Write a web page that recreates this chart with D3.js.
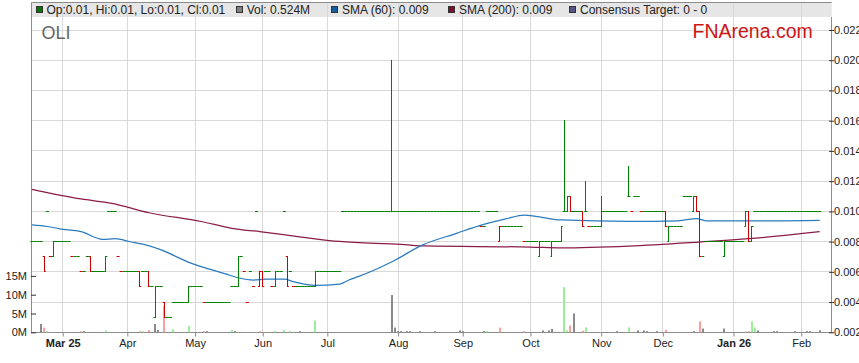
<!DOCTYPE html>
<html>
<head>
<meta charset="utf-8">
<script src="https://cdn.jsdelivr.net/npm/d3@7"></script>
<style>
body { margin: 0; background: #fff; }
svg text { font-family: Arial, "Liberation Sans", sans-serif; }
</style>
</head>
<body>
<div id="chart"></div>
<script>

// one entry per weekday, day 0 = Mon 17 Feb 2025
// prices in A$0.001, volume in millions
let startDate = Date.UTC(2025, 1, 17);

let opens = [
    8, 8, 8, 8, 7, 10, 7, 7, 8, 8,
    8, 8, 8, 7, 7, 7, 6, 6, 7, 7,
    6, 6, 6, 6, 6, 10, 10, 10, 7, 6,
    6, 6, 6, 6, 6, 6, 6, 6, 6, 5,
    3, 5, 5, 4, 3, 3, 4, 4, 4, 4,
    4, 4, 5, 5, 5, 5, 4, 4, 4, 4,
    4, 4, 4, 4, 4, 5, 5, 5, 7, 6,
    4, 6, 5, 10, 5, 6, 6, 6, 5, 5,
    6, 6, 10, 7, 6, 5, 5, 5, 5, 5,
    5, 5, 5, 6, 6, 6, 6, 6, 6, 6,
    6, 10, 10, 10, 10, 10, 10, 10, 10, 10,
    10, 10, 10, 10, 10, 10, 10, 10, 10, 10,
    10, 10, 10, 10, 10, 10, 10, 10, 10, 10,
    10, 10, 10, 10, 10, 10, 10, 10, 10, 10,
    10, 10, 10, 10, 10, 10, 9, 9, 10, 10,
    10, 10, 8, 9, 9, 9, 9, 9, 9, 9,
    8, 8, 8, 8, 8, 7, 8, 8, 8, 7,
    8, 8, 8, 10, 10, 11, 10, 10, 10, 10,
    10, 9, 9, 9, 9, 9, 10, 10, 10, 10,
    10, 10, 10, 10, 11, 10, 11, 11, 10, 10,
    10, 10, 10, 10, 10, 10, 10, 8, 9, 9,
    9, 9, 11, 11, 11, 10, 11, 10, 7, 8,
    8, 8, 8, 8, 8, 7, 8, 8, 8, 8,
    8, 8, 9, 10, 8, 10, 10, 10, 10, 10,
    10, 10, 10, 10, 10, 10, 10, 10, 10, 10,
    10, 10, 10, 10, 10, 10, 10
];
let highs = [
    8, 8, 8, 8, 7, 10, 7, 8, 8, 8,
    8, 8, 8, 7, 7, 7, 6, 6, 7, 7,
    6, 6, 6, 6, 7, 10, 10, 10, 7, 6,
    6, 6, 6, 6, 6, 6, 6, 6, 6, 5,
    5, 5, 5, 4, 3, 3, 4, 4, 4, 4,
    4, 5, 5, 5, 5, 5, 4, 4, 4, 4,
    4, 4, 4, 4, 4, 5, 5, 7, 7, 6,
    4, 6, 5, 10, 6, 6, 6, 6, 5, 6,
    6, 6, 10, 7, 6, 5, 5, 5, 5, 5,
    5, 5, 6, 6, 6, 6, 6, 6, 6, 6,
    6, 10, 10, 10, 10, 10, 10, 10, 10, 10,
    10, 10, 10, 10, 10, 10, 10, 20, 10, 10,
    10, 10, 10, 10, 10, 10, 10, 10, 10, 10,
    10, 10, 10, 10, 10, 10, 10, 10, 10, 10,
    10, 10, 10, 10, 10, 10, 9, 9, 10, 10,
    10, 10, 9, 9, 9, 9, 9, 9, 9, 9,
    8, 8, 8, 8, 8, 8, 8, 8, 8, 8,
    8, 8, 9, 16, 11, 11, 10, 10, 10, 10,
    12, 9, 9, 9, 9, 11, 10, 10, 10, 10,
    10, 10, 10, 10, 13, 10, 11, 11, 10, 10,
    10, 10, 10, 10, 10, 10, 10, 9, 9, 9,
    9, 9, 11, 11, 11, 11, 11, 10, 7, 8,
    8, 8, 8, 8, 8, 8, 8, 8, 8, 8,
    8, 8, 10, 10, 9, 10, 10, 10, 10, 10,
    10, 10, 10, 10, 10, 10, 10, 10, 10, 10,
    10, 10, 10, 10, 10, 10, 10
];
let lows = [
    8, 8, 8, 8, 6, 10, 7, 7, 8, 8,
    8, 8, 8, 7, 7, 7, 6, 6, 7, 6,
    6, 6, 6, 6, 6, 10, 10, 10, 7, 6,
    6, 6, 6, 6, 6, 5, 6, 6, 5, 5,
    3, 5, 5, 3, 3, 3, 4, 4, 4, 4,
    4, 4, 5, 5, 5, 5, 4, 4, 4, 4,
    4, 4, 4, 4, 4, 5, 5, 5, 7, 6,
    4, 6, 5, 10, 5, 5, 6, 6, 5, 5,
    6, 6, 10, 5, 6, 5, 5, 5, 5, 5,
    5, 5, 5, 6, 6, 6, 6, 6, 6, 6,
    6, 10, 10, 10, 10, 10, 10, 10, 10, 10,
    10, 10, 10, 10, 10, 10, 10, 10, 10, 10,
    10, 10, 10, 10, 10, 10, 10, 10, 10, 10,
    10, 10, 10, 10, 10, 10, 10, 10, 10, 10,
    10, 10, 10, 10, 10, 10, 9, 9, 10, 10,
    10, 10, 8, 9, 9, 9, 9, 9, 9, 9,
    8, 8, 8, 8, 8, 7, 8, 8, 8, 7,
    8, 8, 8, 10, 10, 10, 10, 10, 10, 9,
    10, 9, 9, 9, 9, 9, 10, 10, 10, 10,
    10, 10, 10, 10, 11, 10, 11, 11, 10, 10,
    10, 10, 10, 10, 10, 10, 9, 8, 9, 9,
    9, 9, 11, 11, 11, 10, 10, 7, 7, 8,
    8, 8, 8, 8, 8, 7, 8, 8, 8, 8,
    8, 8, 9, 8, 8, 10, 10, 10, 10, 10,
    10, 10, 10, 10, 10, 10, 10, 10, 10, 10,
    10, 10, 10, 10, 10, 10, 10
];
let closes = [
    8, 8, 8, 8, 6, 10, 7, 8, 8, 8,
    8, 8, 8, 7, 7, 7, 6, 6, 7, 6,
    6, 6, 6, 6, 7, 10, 10, 10, 7, 6,
    6, 6, 6, 6, 6, 5, 6, 6, 5, 5,
    5, 5, 5, 3, 3, 3, 4, 4, 4, 4,
    4, 5, 5, 5, 5, 5, 4, 4, 4, 4,
    4, 4, 4, 4, 4, 5, 5, 7, 7, 6,
    4, 6, 5, 10, 6, 5, 6, 6, 5, 6,
    6, 6, 10, 5, 6, 5, 5, 5, 5, 5,
    5, 5, 6, 6, 6, 6, 6, 6, 6, 6,
    6, 10, 10, 10, 10, 10, 10, 10, 10, 10,
    10, 10, 10, 10, 10, 10, 10, 10, 10, 10,
    10, 10, 10, 10, 10, 10, 10, 10, 10, 10,
    10, 10, 10, 10, 10, 10, 10, 10, 10, 10,
    10, 10, 10, 10, 10, 10, 9, 9, 10, 10,
    10, 10, 9, 9, 9, 9, 9, 9, 9, 9,
    8, 8, 8, 8, 8, 8, 8, 8, 8, 8,
    8, 8, 9, 10, 11, 10, 10, 10, 10, 9,
    10, 9, 9, 9, 9, 10, 10, 10, 10, 10,
    10, 10, 10, 10, 11, 10, 11, 11, 10, 10,
    10, 10, 10, 10, 10, 10, 9, 9, 9, 9,
    9, 9, 11, 11, 11, 11, 10, 7, 7, 8,
    8, 8, 8, 8, 8, 8, 8, 8, 8, 8,
    8, 8, 10, 8, 9, 10, 10, 10, 10, 10,
    10, 10, 10, 10, 10, 10, 10, 10, 10, 10,
    10, 10, 10, 10, 10, 10, 10
];
let volume = [
    .05, .05, .05, 2.2, 1.25, .3, .05, .05, .05, .05,
    .05, .05, .05, .05, .05, .05, .3, .3, .05, .05,
    .05, .05, .05, .05, .5, .05, .05, .05, .05, .05,
    .05, .05, .05, .05, .05, .3, .3, .05, .6, .05,
    2.2, .6, .05, 7.1, .05, .05, .8, .05, .05, .05,
    .05, 1.7, .05, .05, .05, .05, .3, .3, .05, .05,
    .05, .05, .05, .05, .05, .6, .3, .05, .05, .05,
    .05, .05, .05, .05, .3, .05, .05, .05, .05, .3,
    .05, .05, .6, .05, .3, .05, .05, .3, .05, .05,
    .05, .05, 3.1, .05, .05, .05, .05, .05, .05, .05,
    .05, .05, .05, .05, .05, .05, .05, .05, .05, .05,
    .05, .05, .05, .05, .05, .05, .05, 9.9, 1.25, .3,
    .3, .05, .3, .3, .05, .05, .3, .05, .05, .05,
    .05, .3, .05, .05, .05, .05, .05, .05, .05, .5,
    .3, .05, .05, .05, .05, .05, .05, .3, .3, .05,
    .05, .05, 1.25, .05, .05, .05, .05, .05, .05, .05,
    .3, .05, .05, .05, .05, .05, .5, .05, .5, .9,
    .05, .05, .05, 12, .5, 1.8, 5, .05, .05, .4,
    1.3, .05, .05, .05, .05, .05, .05, .05, .05, .05,
    .3, .05, .05, .05, 1.3, .05, .05, .5, .05, .5,
    .3, .05, .05, .3, .05, .05, .7, .05, .05, .05,
    .05, .05, .05, .05, .05, .3, .05, 2.9, 1, .05,
    .05, .05, .05, .05, .05, 1, .05, .05, .05, .05,
    .05, .05, .3, .3, 2.9, 1.3, .5, .05, .05, .05,
    .05, .3, .3, .05, .05, .05, .05, .05, .3, .05,
    .05, .05, .3, .3, .05, .05, .524
];

// moving averages read at sample days
let sma60Days = [0, 5, 9, 16, 23, 27, 32, 37, 42, 51, 63, 67, 72, 76, 82, 85, 92, 100, 103, 106, 117, 127, 138, 145, 154, 160, 172, 194, 210, 216, 219, 241, 256];
let sma60 = [9.10, 9.00, 8.85, 8.66, 8.15, 8.19, 7.99, 7.78, 7.45, 6.63, 5.86, 5.61, 5.46, 5.51, 5.51, 5.35, 5.11, 5.19, 5.46, 5.68, 6.67, 7.78, 8.55, 9.03, 9.50, 9.76, 9.43, 9.34, 9.38, 9.52, 9.38, 9.38, 9.41];
let sma200Days = [0, 16, 26, 38, 55, 65, 74, 87, 100, 120, 128, 162, 172, 194, 217, 233, 256];
let sma200 = [11.46, 10.82, 10.53, 9.91, 9.33, 8.88, 8.66, 8.32, 8.01, 7.82, 7.71, 7.64, 7.58, 7.70, 7.97, 8.19, 8.66];

let monthStarts = ["2025-03-01", "2025-04-01", "2025-05-01", "2025-06-01", "2025-07-01", "2025-08-01", "2025-09-01", "2025-10-01", "2025-11-01", "2025-12-01", "2026-01-01", "2026-02-01"];
let monthLabels = ["Mar 25", "Apr", "May", "Jun", "Jul", "Aug", "Sep", "Oct", "Nov", "Dec", "Jan 26", "Feb"];
let priceTicks = [2, 4, 6, 8, 10, 12, 14, 16, 18, 20, 22];
let volTicks = [0, 5, 10, 15];

let upColor = "#008000", downColor = "#d00000";

function weekdayNo(dateStr) {
    let n = Math.round((new Date(dateStr) - startDate) / 864e5);
    return Math.floor(n / 7) * 5 + Math.min(n % 7, 5);
}

let plotLeft = 31, plotRight = 831.7, plotTop = 2, plotBottom = 332.3;

let svg = d3.select("#chart")
    .append("svg")
    .attr("width", 859)
    .attr("height", 363)
    .style("display", "block");

let xScale = d3.scaleLinear().domain([-0.3, 259.9]).range([plotLeft, plotRight]);
let yScale = d3.scaleLinear().domain([2, 22]).range([plotBottom, 30]);
let volScale = d3.scaleLinear().domain([0, 15]).range([plotBottom, 275.9]);

let px = v => Math.round(v - 0.5) + 0.5;
let monthDays = monthStarts.map(weekdayNo);

// legend band
svg.append("rect")
    .attr("x", plotLeft).attr("y", plotTop)
    .attr("width", plotRight - plotLeft).attr("height", 15)
    .attr("fill", "#e6e6e6");

// grid
svg.append("g").selectAll("line")
    .data(priceTicks.slice(1))
    .enter().append("line")
    .attr("x1", plotLeft).attr("x2", plotRight)
    .attr("y1", d => px(yScale(d))).attr("y2", d => px(yScale(d)))
    .attr("stroke", "#d9d9d9");
svg.append("g").selectAll("line")
    .data(monthDays)
    .enter().append("line")
    .attr("x1", d => px(xScale(d))).attr("x2", d => px(xScale(d)))
    .attr("y1", plotTop).attr("y2", plotBottom)
    .attr("stroke", "#d9d9d9");

// frame
svg.append("path")
    .attr("d", `M${plotLeft + 0.5},${plotBottom}V${plotTop + 0.5}H${plotRight}M${px(plotRight)},${plotTop + 15}V${px(plotBottom)}M${plotLeft},${px(plotBottom)}H${plotRight + 1}`)
    .attr("fill", "none")
    .attr("stroke", "#8c8c8c");

// volume bars
let days = d3.range(closes.length);
let volColor = i => i == 0 || closes[i] == closes[i - 1] ? "#8a8a8a" : (closes[i] > closes[i - 1] ? "#99ee99" : "#ff9d9d");
svg.append("g").selectAll("rect")
    .data(days)
    .enter().append("rect")
    .attr("x", i => Math.round(xScale(i)) - 1)
    .attr("width", 2)
    .attr("y", i => volScale(volume[i]))
    .attr("height", i => plotBottom - volScale(volume[i]))
    .attr("fill", volColor);

// moving averages
let line = d3.line().x(d => xScale(d[0])).y(d => yScale(d[1])).curve(d3.curveMonotoneX);
svg.append("path")
    .attr("d", line(d3.zip(sma200Days, sma200)))
    .attr("fill", "none").attr("stroke", "#8b1c48").attr("stroke-width", 1.25);
svg.append("path")
    .attr("d", line(d3.zip(sma60Days, sma60)))
    .attr("fill", "none").attr("stroke", "#2a7bbd").attr("stroke-width", 1.25);

// OHLC bars
svg.append("g").selectAll("path")
    .data(days)
    .enter().append("path")
    .attr("d", function (i) {
        let cx = xScale(i), vx = px(cx);
        let yo = px(yScale(opens[i])), yh = px(yScale(highs[i])), yl = px(yScale(lows[i])), yc = px(yScale(closes[i]));
        let d = `M${cx - 1.54},${yo}H${vx}M${vx - 0.5},${yc}H${cx + 1.54}`;
        if (yl != yh) d += `M${vx},${yh - 0.5}V${yl + 0.5}`;
        return d;
    })
    .attr("fill", "none")
    .attr("stroke", i => i > 0 && closes[i] < closes[i - 1] ? downColor : upColor);

// axes
let priceAxis = svg.append("g")
    .attr("transform", "translate(829,0)")
    .call(d3.axisRight(yScale).tickValues(priceTicks).tickSize(5).tickPadding(0).tickFormat(d => (d / 1000).toFixed(3)));
let volAxis = svg.append("g")
    .attr("transform", `translate(${plotLeft},0)`)
    .call(d3.axisLeft(volScale).tickValues(volTicks).tickSizeInner(-5).tickSizeOuter(0).tickPadding(4).tickFormat(d => d + "M"));
let timeAxis = svg.append("g")
    .attr("transform", `translate(0,${px(plotBottom)})`)
    .call(d3.axisBottom(xScale).tickValues(monthDays).tickSize(4).tickPadding(3).tickFormat((d, i) => monthLabels[i]));

[priceAxis, volAxis, timeAxis].forEach(function (g) {
    g.select(".domain").remove();
    g.selectAll("line").attr("stroke", "#333");
    g.selectAll("text")
        .attr("font-size", 11)
        .attr("font-family", "Arial, 'Liberation Sans', sans-serif")
        .attr("fill", "#222");
});
timeAxis.selectAll("text").attr("font-weight", (d, i) => /\d/.test(monthLabels[i]) ? "bold" : "normal");
timeAxis.selectAll("line").attr("stroke", "#888");

// legend
let fmt = v => (v / 1000).toFixed(2);
let last = closes.length - 1;
let legendItems = [
    { color: "#007700", text: `Op:${fmt(opens[last])}, Hi:${fmt(highs[last])}, Lo:${fmt(lows[last])}, Cl:${fmt(closes[last])}`, x: 46.5 },
    { color: "#808080", text: `Vol: ${volume[last].toFixed(3)}M`, x: 246.7 },
    { color: "#12609e", text: `SMA (60): ${(sma60[sma60.length - 1] / 1000).toFixed(3)}`, x: 342 },
    { color: "#7a1030", text: `SMA (200): ${(sma200[sma200.length - 1] / 1000).toFixed(3)}`, x: 459 },
    { color: "#555588", text: "Consensus Target: 0 - 0", x: 580 }
];
let legend = svg.append("g").selectAll("g")
    .data(legendItems)
    .enter().append("g");
legend.append("rect")
    .attr("x", d => Math.round(d.x - 11) + 0.5).attr("y", 6.5)
    .attr("width", 6).attr("height", 6)
    .attr("fill", d => d.color).attr("stroke", "#333");
legend.append("text")
    .attr("x", d => d.x).attr("y", 13.5)
    .attr("font-size", 12)
    .attr("fill", "#222")
    .text(d => d.text);

svg.append("text")
    .attr("x", 41.5).attr("y", 39.3)
    .attr("font-size", 18)
    .attr("fill", "#666")
    .text("OLI");
svg.append("text")
    .attr("x", 692.5).attr("y", 37.7)
    .attr("font-size", 19.5)
    .attr("fill", "#cc1515")
    .text("FNArena.com");

</script>
</body>
</html>
